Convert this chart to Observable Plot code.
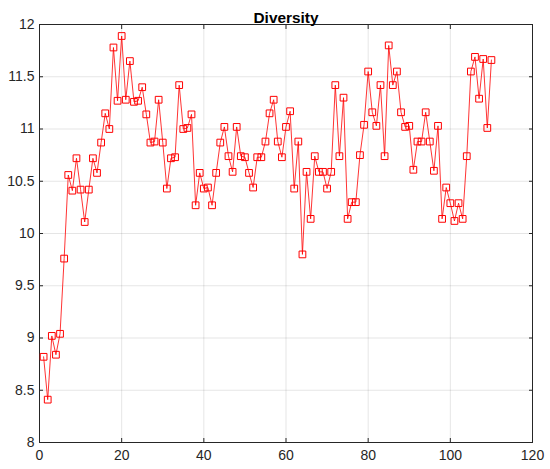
<!DOCTYPE html>
<html>
<head>
<meta charset="utf-8">
<script src="https://cdn.jsdelivr.net/npm/d3@7"></script>
<script src="https://cdn.jsdelivr.net/npm/@observablehq/plot@0.6"></script>
<style>
  html, body { margin: 0; padding: 0; background: #fff; }
  svg { display: block; }
</style>
</head>
<body>
<div id="chart"></div>
<script>
const title = "Diversity";
const xValues = d3.range(1, 111);
const diversity = [
  8.82, 8.41, 9.02, 8.84, 9.04, 9.76, 10.56, 10.41, 10.72, 10.42,
  10.11, 10.42, 10.72, 10.58, 10.87, 11.15, 11.00, 11.78, 11.27, 11.89,
  11.28, 11.65, 11.26, 11.27, 11.40, 11.14, 10.87, 10.88, 11.28, 10.87,
  10.43, 10.72, 10.73, 11.42, 11.00, 11.01, 11.14, 10.27, 10.58, 10.43,
  10.44, 10.27, 10.58, 10.87, 11.02, 10.74, 10.59, 11.02, 10.74, 10.73,
  10.58, 10.44, 10.73, 10.73, 10.88, 11.15, 11.28, 10.88, 10.73, 11.02,
  11.17, 10.43, 10.88, 9.80, 10.59, 10.14, 10.74, 10.59, 10.59, 10.43,
  10.59, 11.42, 10.74, 11.30, 10.14, 10.30, 10.30, 10.75, 11.04, 11.55,
  11.16, 11.03, 11.42, 10.74, 11.80, 11.42, 11.55, 11.16, 11.02, 11.03,
  10.61, 10.88, 10.88, 11.16, 10.88, 10.60, 11.03, 10.14, 10.44, 10.29,
  10.12, 10.29, 10.14, 10.74, 11.55, 11.69, 11.29, 11.67, 11.01, 11.66
];
const xTicks = [0, 20, 40, 60, 80, 100, 120];
const yTicks = [8, 8.5, 9, 9.5, 10, 10.5, 11, 11.5, 12];

const data = xValues.map((x, i) => ({x, y: diversity[i]}));
const axisColor = "#262626";
const font = "'Liberation Sans', Arial, sans-serif";

const chart = Plot.plot({
  width: 550,
  height: 469,
  marginLeft: 39,
  marginRight: 18,
  marginTop: 24,
  marginBottom: 27,
  style: {fontFamily: font, fontSize: "14px", color: axisColor, background: "#fff"},
  x: {domain: [0, 120]},
  y: {domain: [8, 12]},
  marks: [
    Plot.gridX(xTicks, {stroke: "#000", strokeOpacity: 0.1}),
    Plot.gridY(yTicks, {stroke: "#000", strokeOpacity: 0.1}),
    Plot.axisX(xTicks, {anchor: "bottom", tickSize: 0, tickPadding: 8, label: null, fill: axisColor, fontSize: 14}),
    Plot.axisY(yTicks, {anchor: "left", tickSize: 0, tickPadding: 5, label: null, fill: axisColor, fontSize: 14, tickFormat: d => String(d)}),
    Plot.axisX(xTicks, {anchor: "bottom", tickSize: -4, text: null, label: null, stroke: axisColor}),
    Plot.axisX(xTicks, {anchor: "top", tickSize: -4, text: null, label: null, stroke: axisColor}),
    Plot.axisY(yTicks, {anchor: "left", tickSize: -4, text: null, label: null, stroke: axisColor}),
    Plot.axisY(yTicks, {anchor: "right", tickSize: -4, text: null, label: null, stroke: axisColor}),
    Plot.frame({stroke: axisColor, strokeWidth: 1}),
    Plot.line(data, {x: "x", y: "y", stroke: "#ff0000", strokeWidth: 0.8}),
    Plot.dot(data, {x: "x", y: "y", symbol: "square", r: 3.8, stroke: "#ff0000", strokeWidth: 1, fill: "none"}),
    Plot.text([title], {frameAnchor: "top", dy: -12.5, text: d => d, fontWeight: "bold", fontSize: 15.4, fill: "#000"})
  ]
});
document.getElementById("chart").appendChild(chart);
</script>
</body>
</html>
